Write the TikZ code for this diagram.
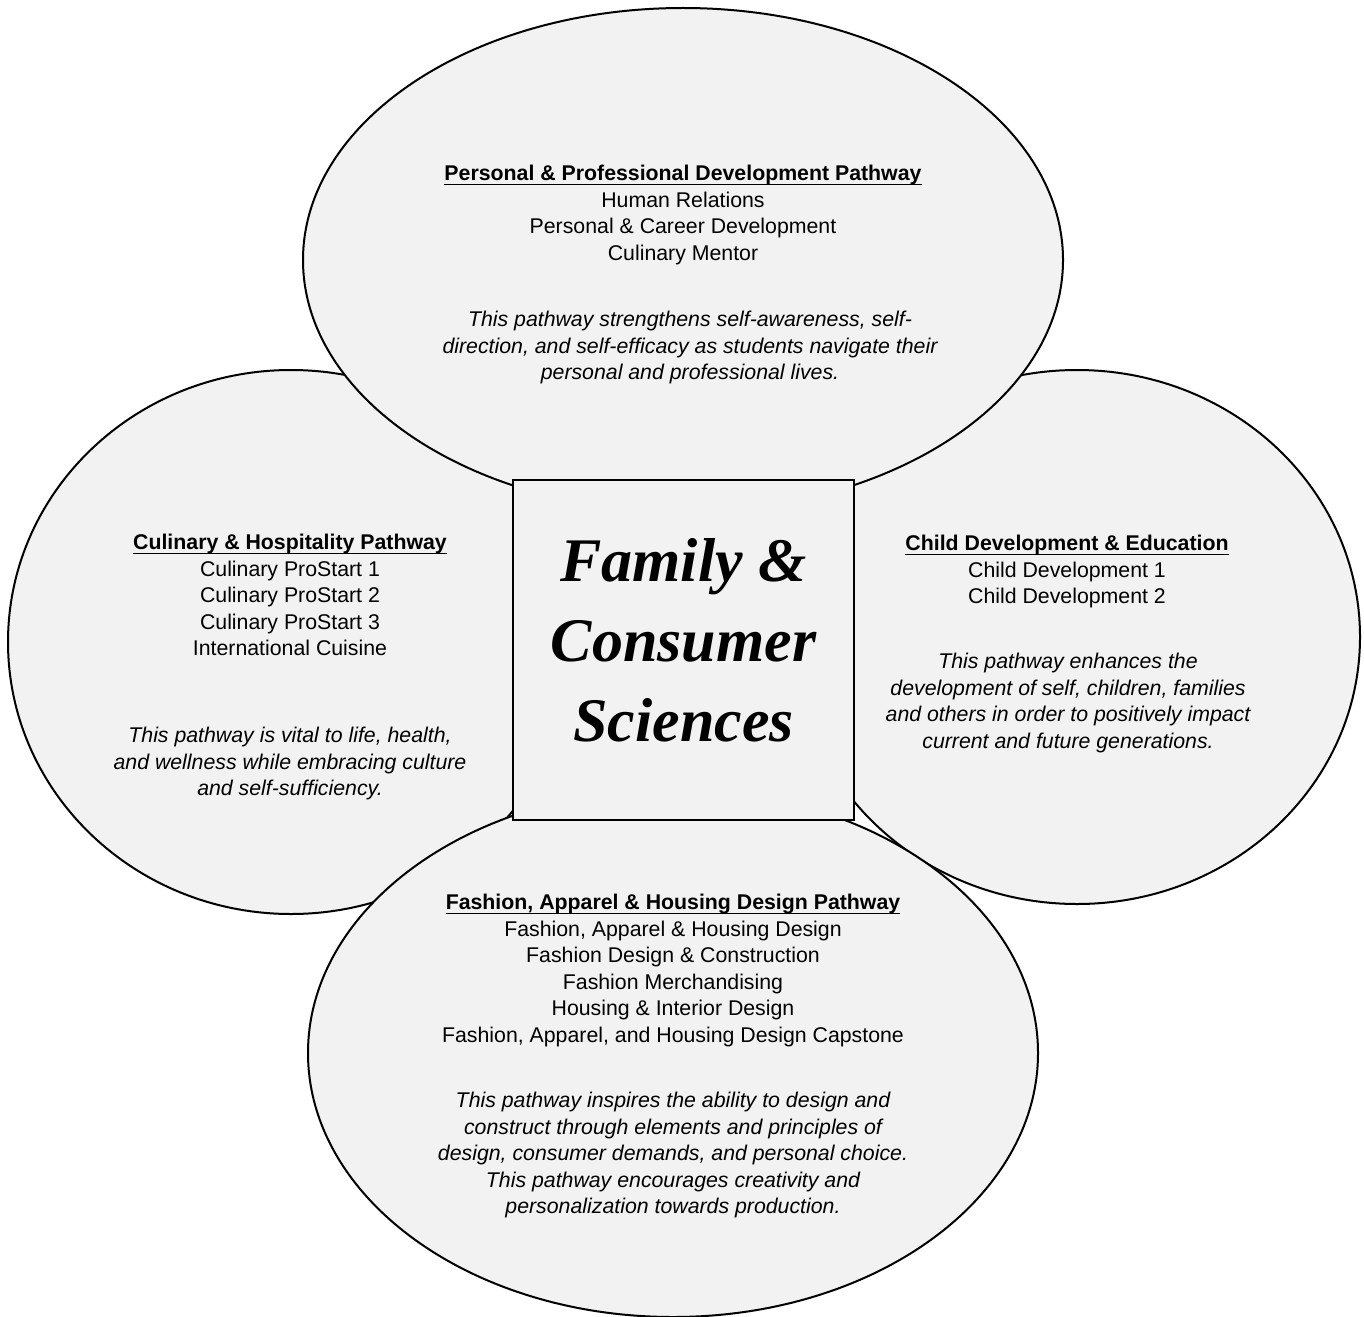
\documentclass[tikz,border=0pt]{standalone}
\usepackage{fontspec}
\setmainfont{Liberation Sans}
\newfontfamily\titlefont{Liberation Serif}
\definecolor{fillgray}{HTML}{F2F2F2}
\newcommand\ulhead[1]{\setbox0\hbox{\bfseries #1}\rlap{\rule[-2.3pt]{\wd0}{0.95pt}}\box0}
\begin{document}
\begin{tikzpicture}[x=0.5pt,y=-0.5pt,
  bubble/.style={draw=black, line width=1pt, fill=fillgray},
  txt/.style={align=center, inner sep=0pt, anchor=north, font=\fontsize{10.65pt}{13.25pt}\selectfont},
  desc/.style={align=center, inner sep=0pt, anchor=north, font=\fontsize{10.65pt}{13.25pt}\selectfont\itshape},
  titlebox/.style={draw=black, line width=1pt, fill=fillgray, inner sep=0pt, minimum width=170.5pt, minimum height=170pt},
  titletxt/.style={align=center, inner sep=0pt, anchor=north, font=\titlefont\bfseries\itshape\fontsize{31pt}{40pt}\selectfont}
  ]
\useasboundingbox (0,0) rectangle (1364,1316);
% ellipses
\path[bubble] (291,642) ellipse [x radius=141.5pt, y radius=136pt];
\path[bubble] (1077,637) ellipse [x radius=141.5pt, y radius=133.5pt];
\path[bubble] (683,260) ellipse [x radius=190pt, y radius=126pt];
\path[bubble] (673,1053) ellipse [x radius=182.5pt, y radius=132pt];
% central box
\node[titlebox] (box) at (683.5,650) {};
\node[titletxt] (title) at (683.5,538) {Family \&\\Consumer\\Sciences};
% top
\node[txt] (toph) at (683,165) {\ulhead{Personal \& Professional Development Pathway}\\Human Relations\\Personal \& Career Development\\Culinary Mentor};
\node[desc] (topd) at (690,311) {This pathway strengthens self-awareness, self-\\direction, and self-efficacy as students navigate their\\personal and professional lives.};
% left
\node[txt] (lefth) at (290,534) {\ulhead{Culinary \& Hospitality Pathway}\\Culinary ProStart 1\\Culinary ProStart 2\\Culinary ProStart 3\\International Cuisine};
\node[desc] (leftd) at (290,727) {This pathway is vital to life, health,\\and wellness while embracing culture\\and self-sufficiency.};
% right
\node[txt] (righth) at (1067,535) {\ulhead{Child Development \& Education}\\Child Development 1\\Child Development 2};
\node[desc] (rightd) at (1068,653) {This pathway enhances the\\development of self, children, families\\and others in order to positively impact\\current and future generations.};
% bottom
\node[txt] (both) at (673,894) {\ulhead{Fashion, Apparel \& Housing Design Pathway}\\Fashion, Apparel \& Housing Design\\Fashion Design \& Construction\\Fashion Merchandising\\Housing \& Interior Design\\Fashion, Apparel, and Housing Design Capstone};
\node[desc] (botd) at (673,1092) {This pathway inspires the ability to design and\\construct through elements and principles of\\design, consumer demands, and personal choice.\\This pathway encourages creativity and\\personalization towards production.};
\end{tikzpicture}
\end{document}
